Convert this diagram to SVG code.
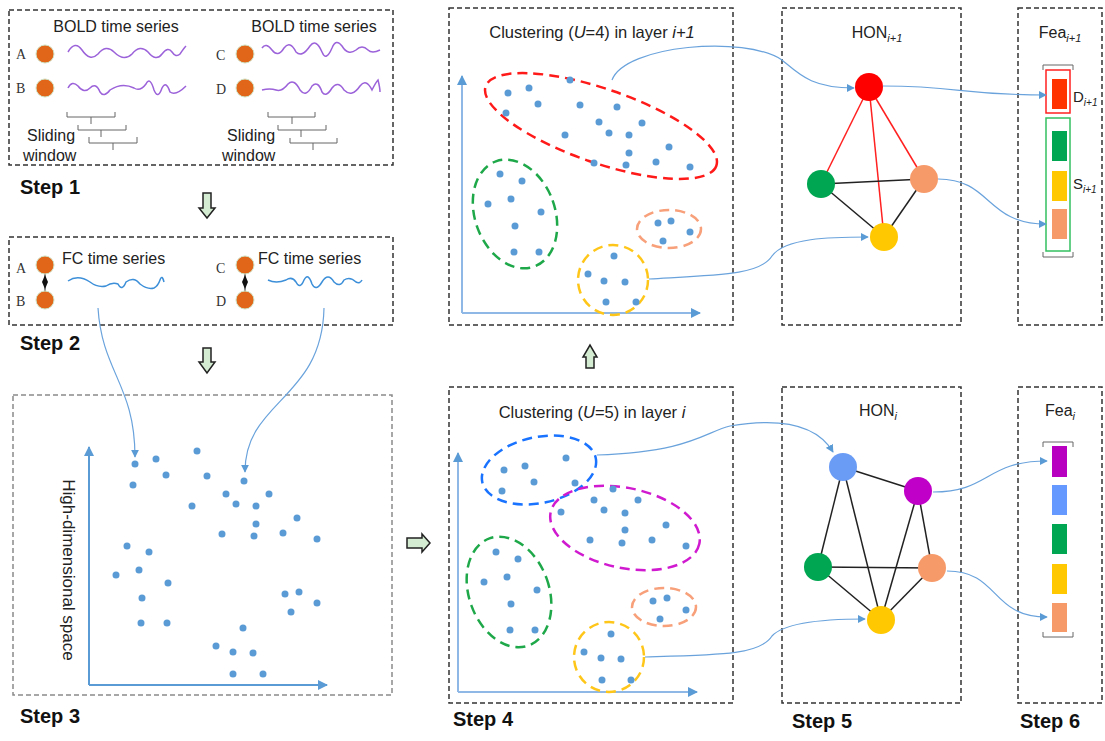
<svg xmlns="http://www.w3.org/2000/svg" width="1105" height="741" viewBox="0 0 1105 741">
<defs>
<marker id="ah" viewBox="0 0 10 10" refX="9" refY="5" markerWidth="8" markerHeight="8" markerUnits="userSpaceOnUse" orient="auto"><path d="M0,0 L10,5 L0,10 z" fill="#5b9bd5"/></marker>
<marker id="ax" viewBox="0 0 10 10" refX="9" refY="5" markerWidth="10" markerHeight="10" markerUnits="userSpaceOnUse" orient="auto"><path d="M0,0 L10,5 L0,10 z" fill="#5b9bd5"/></marker>
<style>
.box{fill:none;stroke:#333;stroke-width:1.5;stroke-dasharray:5 3}
.box3{fill:none;stroke:#8a8a8a;stroke-width:1.5;stroke-dasharray:5 3}
.t{font-family:"Liberation Sans",Arial,sans-serif;fill:#222}
.step{font-family:"Liberation Sans",Arial,sans-serif;font-weight:bold;font-size:20px;fill:#111}
.ser{font-family:"Liberation Serif","Times New Roman",serif;font-size:14px;fill:#333}
.oc{fill:#e2661a;stroke:#cfe3c5;stroke-width:1}
.pw{fill:none;stroke:#9b62d9;stroke-width:1.5}
.bw{fill:none;stroke:#3c8fd8;stroke-width:1.5}
.br{fill:none;stroke:#666;stroke-width:1}
.d{fill:#5b9bd5}
.ax{fill:none;stroke:#5b9bd5;stroke-width:2;marker-end:url(#ax)}
.axl{fill:none;stroke:#8fb8e6;stroke-width:2;marker-end:url(#ax)}
.cn{fill:none;stroke:#6aa3dc;stroke-width:1.2;marker-end:url(#ah)}
.cl{fill:none;stroke-width:2.5;stroke-dasharray:10 6}
.ga{fill:#d4ecd2;stroke:#222;stroke-width:1.5}
.eb{stroke:#222;stroke-width:1.5}
.er{stroke:#ff2020;stroke-width:1.5}
</style>
</defs>
<rect width="1105" height="741" fill="#fff"/>

<!-- Step 1 -->
<g id="step1">
<rect class="box" x="9" y="10" width="384" height="155"/>
<text class="t" x="116" y="32" font-size="16" text-anchor="middle">BOLD time series</text>
<text class="t" x="314" y="32" font-size="16" text-anchor="middle">BOLD time series</text>
<text class="ser" x="16" y="59">A</text>
<text class="ser" x="16" y="93">B</text>
<text class="ser" x="216" y="60">C</text>
<text class="ser" x="216" y="94">D</text>
<circle class="oc" cx="45" cy="54" r="9"/>
<circle class="oc" cx="45" cy="88" r="9"/>
<circle class="oc" cx="245" cy="54" r="9"/>
<circle class="oc" cx="245" cy="88" r="9"/>
<path class="pw" d="M68,52 Q75,40 82,50 Q90,62 98,54 Q106,44 114,52 Q124,62 132,54 Q140,44 148,52 Q156,62 162,54 Q168,46 172,52 Q176,58 180,54 Q184,48 186,46"/>
<path class="pw" d="M68,88 Q72,80 78,86 Q84,94 90,88 Q96,82 100,92 Q104,98 110,90 Q122,82 134,88 Q140,92 146,84 Q150,76 154,90 Q158,100 162,88 Q166,80 170,92 Q176,96 186,86"/>
<path class="pw" d="M262,48 Q266,42 272,50 Q278,58 284,48 Q290,40 296,52 Q302,58 310,46 Q316,38 322,52 Q326,62 332,48 Q336,38 342,46 Q348,56 356,50 Q362,44 368,50 Q372,54 380,50"/>
<path class="pw" d="M262,90 Q270,88 276,90 Q282,92 288,84 Q294,78 300,90 Q306,98 312,86 Q318,80 322,92 Q326,98 332,88 Q338,80 344,90 Q352,98 360,86 Q366,78 372,90 Q376,82 378,80 Q380,88 380,92"/>
<path class="br" d="M67,112 V117 H115 V112 M91,117 V124"/>
<path class="br" d="M78,125 V130 H126 V125 M101,130 V137"/>
<path class="br" d="M89,137 V143 H137 V137 M113,143 V150"/>
<path class="br" d="M268,112 V117 H315 V112 M292,117 V124"/>
<path class="br" d="M278,125 V130 H326 V125 M301,130 V137"/>
<path class="br" d="M290,138 V143 H337 V138 M313,143 V150"/>
<text class="t" x="27" y="141" font-size="16">Sliding</text>
<text class="t" x="23" y="161" font-size="16">window</text>
<text class="t" x="227" y="141" font-size="16">Sliding</text>
<text class="t" x="222" y="161" font-size="16">window</text>
<text class="step" x="20" y="194">Step 1</text>
</g>

<!-- Step 2 -->
<g id="step2">
<rect class="box" x="9" y="237" width="384" height="88"/>
<text class="ser" x="16" y="273">A</text>
<text class="ser" x="16" y="306">B</text>
<text class="ser" x="216" y="273">C</text>
<text class="ser" x="216" y="306">D</text>
<line x1="45" y1="268" x2="45" y2="297" stroke="#222" stroke-width="1"/>
<line x1="245" y1="268" x2="245" y2="297" stroke="#222" stroke-width="1"/>
<path d="M45,275 L48,282 L45,289 L42,282 z" fill="#111"/>
<path d="M245,275 L248,282 L245,289 L242,282 z" fill="#111"/>
<circle class="oc" cx="45" cy="265" r="9"/>
<circle class="oc" cx="45" cy="300" r="9"/>
<circle class="oc" cx="245" cy="265" r="9"/>
<circle class="oc" cx="245" cy="300" r="9"/>
<text class="t" x="62" y="264" font-size="16">FC time series</text>
<text class="t" x="258" y="264" font-size="16">FC time series</text>
<path class="bw" d="M68,281 Q78,274 90,282 Q98,288 106,286 Q112,282 118,284 Q122,292 126,282 Q134,276 140,284 Q148,290 154,288 Q158,286 160,280 Q162,274 164,282"/>
<path class="bw" d="M268,280 Q276,284 286,280 Q292,276 296,282 Q300,290 304,280 Q308,272 312,284 Q316,292 322,282 Q328,272 334,282 Q340,288 344,280 Q350,276 356,282 Q360,284 362,280"/>
<text class="step" x="20" y="350">Step 2</text>
</g>

<!-- Step 3 -->
<g id="step3">
<rect class="box3" x="13" y="395" width="379" height="300"/>
<path class="ax" d="M89,685 V447"/>
<path class="ax" d="M89,685 H327"/>
<text class="t" transform="translate(63,570) rotate(90)" font-size="17" text-anchor="middle">High-dimensional space</text>
<g class="d">
<circle cx="135" cy="464" r="3.5"/><circle cx="156" cy="459" r="3.5"/><circle cx="166" cy="475" r="3.5"/><circle cx="133" cy="485" r="3.5"/>
<circle cx="197" cy="451" r="3.5"/><circle cx="207" cy="476" r="3.5"/><circle cx="192" cy="506" r="3.5"/><circle cx="244" cy="481" r="3.5"/>
<circle cx="226" cy="494" r="3.5"/><circle cx="236" cy="504" r="3.5"/><circle cx="256" cy="506" r="3.5"/><circle cx="269" cy="494" r="3.5"/>
<circle cx="297" cy="518" r="3.5"/><circle cx="256" cy="524" r="3.5"/><circle cx="222" cy="534" r="3.5"/><circle cx="254" cy="536" r="3.5"/>
<circle cx="283" cy="533" r="3.5"/><circle cx="317" cy="539" r="3.5"/><circle cx="127" cy="546" r="3.5"/><circle cx="149" cy="552" r="3.5"/>
<circle cx="116" cy="575" r="3.5"/><circle cx="139" cy="570" r="3.5"/><circle cx="168" cy="583" r="3.5"/><circle cx="142" cy="598" r="3.5"/>
<circle cx="141" cy="623" r="3.5"/><circle cx="167" cy="623" r="3.5"/><circle cx="285" cy="594" r="3.5"/><circle cx="299" cy="592" r="3.5"/>
<circle cx="317" cy="603" r="3.5"/><circle cx="291" cy="612" r="3.5"/><circle cx="243" cy="628" r="3.5"/><circle cx="216" cy="646" r="3.5"/>
<circle cx="233" cy="652" r="3.5"/><circle cx="253" cy="653" r="3.5"/><circle cx="233" cy="674" r="3.5"/><circle cx="263" cy="674" r="3.5"/>
</g>
<text class="step" x="20" y="723">Step 3</text>
</g>

<!-- Step 4 top -->
<g id="step4-top">
<rect class="box" x="449" y="8" width="284" height="317"/>
<text class="t" x="592" y="38" font-size="16.5" text-anchor="middle">Clustering (<tspan font-style="italic">U</tspan>=4) in layer <tspan font-style="italic">i+1</tspan></text>
<path class="axl" d="M462,313 V76"/>
<path class="axl" d="M462,313 H700"/>
<ellipse class="cl" cx="601" cy="126" rx="122" ry="37" transform="rotate(19 601 126)" stroke="#ff1a1a"/>
<ellipse class="cl" cx="515" cy="214" rx="40" ry="56" transform="rotate(-20 515 214)" stroke="#1fa84a"/>
<ellipse class="cl" cx="669" cy="229" rx="32" ry="19" stroke="#f7a07a" stroke-width="2"/>
<circle class="cl" cx="613" cy="280" r="35" stroke="#ffc61a"/>
<g class="d">
<circle cx="508" cy="93" r="3.5"/><circle cx="529" cy="88" r="3.5"/><circle cx="570" cy="80" r="3.5"/><circle cx="506" cy="113" r="3.5"/>
<circle cx="538" cy="104" r="3.5"/><circle cx="580" cy="105" r="3.5"/><circle cx="617" cy="107" r="3.5"/><circle cx="599" cy="122" r="3.5"/>
<circle cx="642" cy="123" r="3.5"/><circle cx="565" cy="135" r="3.5"/><circle cx="609" cy="133" r="3.5"/><circle cx="629" cy="135" r="3.5"/>
<circle cx="669" cy="147" r="3.5"/><circle cx="629" cy="153" r="3.5"/><circle cx="594" cy="163" r="3.5"/><circle cx="626" cy="165" r="3.5"/>
<circle cx="656" cy="162" r="3.5"/><circle cx="690" cy="167" r="3.5"/>
<circle cx="500" cy="174" r="3.5"/><circle cx="522" cy="181" r="3.5"/><circle cx="488" cy="204" r="3.5"/><circle cx="511" cy="199" r="3.5"/>
<circle cx="541" cy="212" r="3.5"/><circle cx="515" cy="226" r="3.5"/><circle cx="514" cy="252" r="3.5"/><circle cx="539" cy="252" r="3.5"/>
<circle cx="658" cy="223" r="3.5"/><circle cx="671" cy="221" r="3.5"/><circle cx="690" cy="232" r="3.5"/><circle cx="663" cy="241" r="3.5"/>
<circle cx="614" cy="256" r="3.5"/><circle cx="588" cy="274" r="3.5"/><circle cx="604" cy="281" r="3.5"/><circle cx="625" cy="282" r="3.5"/>
<circle cx="606" cy="302" r="3.5"/><circle cx="636" cy="302" r="3.5"/>
</g>
</g>

<!-- Step 4 bottom -->
<g id="step4-bottom">
<rect class="box" x="449" y="387" width="284" height="316"/>
<text class="t" x="592" y="418" font-size="16.5" text-anchor="middle">Clustering (<tspan font-style="italic">U</tspan>=5) in layer <tspan font-style="italic">i</tspan></text>
<path class="axl" d="M458,692 V453"/>
<path class="axl" d="M458,692 H697"/>
<ellipse class="cl" cx="539" cy="470" rx="58" ry="33" transform="rotate(-12 539 470)" stroke="#1a73ff"/>
<ellipse class="cl" cx="625" cy="528" rx="76" ry="40" transform="rotate(12 625 528)" stroke="#d01ad0"/>
<ellipse class="cl" cx="509" cy="592" rx="40" ry="57" transform="rotate(-20 509 592)" stroke="#1fa84a"/>
<ellipse class="cl" cx="664" cy="607" rx="32" ry="19" stroke="#f7a07a" stroke-width="2"/>
<circle class="cl" cx="609" cy="657" r="35" stroke="#ffc61a"/>
<g class="d">
<circle cx="504" cy="470" r="3.5"/><circle cx="525" cy="466" r="3.5"/><circle cx="566" cy="458" r="3.5"/><circle cx="534" cy="482" r="3.5"/>
<circle cx="502" cy="491" r="3.5"/><circle cx="575" cy="483" r="3.5"/>
<circle cx="613" cy="489" r="3.5"/><circle cx="594" cy="500" r="3.5"/><circle cx="638" cy="500" r="3.5"/><circle cx="561" cy="512" r="3.5"/>
<circle cx="604" cy="510" r="3.5"/><circle cx="625" cy="513" r="3.5"/><circle cx="666" cy="525" r="3.5"/><circle cx="625" cy="530" r="3.5"/>
<circle cx="590" cy="540" r="3.5"/><circle cx="622" cy="543" r="3.5"/><circle cx="652" cy="540" r="3.5"/><circle cx="686" cy="546" r="3.5"/>
<circle cx="496" cy="552" r="3.5"/><circle cx="518" cy="559" r="3.5"/><circle cx="484" cy="582" r="3.5"/><circle cx="507" cy="577" r="3.5"/>
<circle cx="537" cy="590" r="3.5"/><circle cx="511" cy="604" r="3.5"/><circle cx="510" cy="630" r="3.5"/><circle cx="535" cy="630" r="3.5"/>
<circle cx="653" cy="601" r="3.5"/><circle cx="667" cy="598" r="3.5"/><circle cx="686" cy="610" r="3.5"/><circle cx="660" cy="619" r="3.5"/>
<circle cx="611" cy="634" r="3.5"/><circle cx="584" cy="652" r="3.5"/><circle cx="601" cy="658" r="3.5"/><circle cx="621" cy="659" r="3.5"/>
<circle cx="602" cy="680" r="3.5"/><circle cx="631" cy="680" r="3.5"/>
</g>
<text class="step" x="453" y="726">Step 4</text>
</g>

<!-- Step 5 top -->
<g id="step5-top">
<rect class="box" x="782" y="8" width="179" height="317"/>
<text class="t" x="877" y="38" font-size="16" text-anchor="middle">HON<tspan font-size="11" dy="4" font-style="italic">i+1</tspan></text>
<line class="er" x1="869" y1="87" x2="821" y2="184"/>
<line class="er" x1="869" y1="87" x2="884" y2="237"/>
<line class="er" x1="869" y1="87" x2="924" y2="179"/>
<line class="eb" x1="821" y1="184" x2="924" y2="179"/>
<line class="eb" x1="821" y1="184" x2="884" y2="237"/>
<line class="eb" x1="924" y1="179" x2="884" y2="237"/>
<circle cx="869" cy="87" r="14" fill="#ff0000"/>
<circle cx="821" cy="184" r="14" fill="#00a651"/>
<circle cx="924" cy="179" r="14" fill="#f79a6a"/>
<circle cx="884" cy="237" r="14" fill="#ffc800"/>
</g>

<!-- Step 5 bottom -->
<g id="step5-bottom">
<rect class="box" x="782" y="387" width="179" height="316"/>
<text class="t" x="878" y="416" font-size="16" text-anchor="middle">HON<tspan font-size="11" dy="4" font-style="italic">i</tspan></text>
<line class="eb" x1="843" y1="467" x2="918" y2="491"/>
<line class="eb" x1="843" y1="467" x2="818" y2="567"/>
<line class="eb" x1="843" y1="467" x2="881" y2="620"/>
<line class="eb" x1="918" y1="491" x2="881" y2="620"/>
<line class="eb" x1="918" y1="491" x2="932" y2="568"/>
<line class="eb" x1="818" y1="567" x2="932" y2="568"/>
<line class="eb" x1="818" y1="567" x2="881" y2="620"/>
<line class="eb" x1="932" y1="568" x2="881" y2="620"/>
<circle cx="843" cy="467" r="14" fill="#6a9cf5"/>
<circle cx="918" cy="491" r="14" fill="#c000c8"/>
<circle cx="818" cy="567" r="14" fill="#00a651"/>
<circle cx="932" cy="568" r="14" fill="#f79a6a"/>
<circle cx="881" cy="620" r="14" fill="#ffc800"/>
<text class="step" x="792" y="728">Step 5</text>
</g>

<!-- Step 6 top -->
<g id="step6-top">
<rect class="box" x="1018" y="8" width="84" height="317"/>
<text class="t" x="1060" y="38" font-size="16" text-anchor="middle">Fea<tspan font-size="11" dy="4" font-style="italic">i+1</tspan></text>
<path class="br" d="M1043,70 V65 H1073 V70"/>
<path class="br" d="M1043,252 V257 H1073 V252"/>
<rect x="1046" y="70" width="24" height="43" fill="none" stroke="#ff2020" stroke-width="1.5"/>
<rect x="1052" y="79" width="15" height="30" fill="#ff3300"/>
<rect x="1046" y="118" width="24" height="133" fill="none" stroke="#33c060" stroke-width="1.5"/>
<rect x="1052" y="131" width="15" height="30" fill="#00a651"/>
<rect x="1052" y="171" width="15" height="30" fill="#ffc800"/>
<rect x="1052" y="209" width="15" height="30" fill="#f79a6a"/>
<text class="t" x="1073" y="102" font-size="15">D<tspan font-size="10" dy="4" font-style="italic">i+1</tspan></text>
<text class="t" x="1073" y="189" font-size="15">S<tspan font-size="10" dy="4" font-style="italic">i+1</tspan></text>
</g>

<!-- Step 6 bottom -->
<g id="step6-bottom">
<rect class="box" x="1018" y="387" width="84" height="316"/>
<text class="t" x="1060" y="416" font-size="16" text-anchor="middle">Fea<tspan font-size="11" dy="4" font-style="italic">i</tspan></text>
<path class="br" d="M1043,447 V442 H1073 V447"/>
<path class="br" d="M1043,632 V637 H1073 V632"/>
<rect x="1052" y="446" width="15" height="31" fill="#b800c0"/>
<rect x="1052" y="485" width="15" height="30" fill="#6699ff"/>
<rect x="1052" y="524" width="15" height="30" fill="#00a651"/>
<rect x="1052" y="564" width="15" height="30" fill="#ffc800"/>
<rect x="1052" y="603" width="15" height="29" fill="#f79a6a"/>
<text class="step" x="1020" y="728">Step 6</text>
</g>

<!-- hollow arrows -->
<g id="flow-arrows">
<path class="ga" d="M203,193 H211 V208 H215 L207,218 L199,208 H203 Z"/>
<path class="ga" d="M203,348 H211 V362 H215 L207,373 L199,362 H203 Z"/>
<path class="ga" d="M407,538 H422 V534 L430,543 L422,552 V548 H407 Z"/>
<path class="ga" d="M586,368 H594 V357 H597 L590,345 L583,357 H586 Z"/>
</g>

<!-- connectors -->
<g id="connectors">
<path class="cn" d="M98,308 C102,372 135,385 135,457"/>
<path class="cn" d="M324,308 C322,400 245,400 245,472"/>
<path class="cn" d="M612,80 C625,45 745,35 782,60 C800,75 812,88 854,88"/>
<path class="cn" d="M883,86 C960,86 960,95 1046,95"/>
<path class="cn" d="M938,179 C992,179 985,224 1046,224"/>
<path class="cn" d="M649,279 C720,275 760,275 772,256 C785,238 830,237 868,237"/>
<path class="cn" d="M597,455 C690,452 705,432 730,426 C790,416 820,430 833,452"/>
<path class="cn" d="M933,492 C990,492 985,461 1047,461"/>
<path class="cn" d="M947,571 C1000,571 990,617 1047,617"/>
<path class="cn" d="M645,657 C720,655 760,655 772,636 C785,622 830,619 865,619"/>
</g>
</svg>
